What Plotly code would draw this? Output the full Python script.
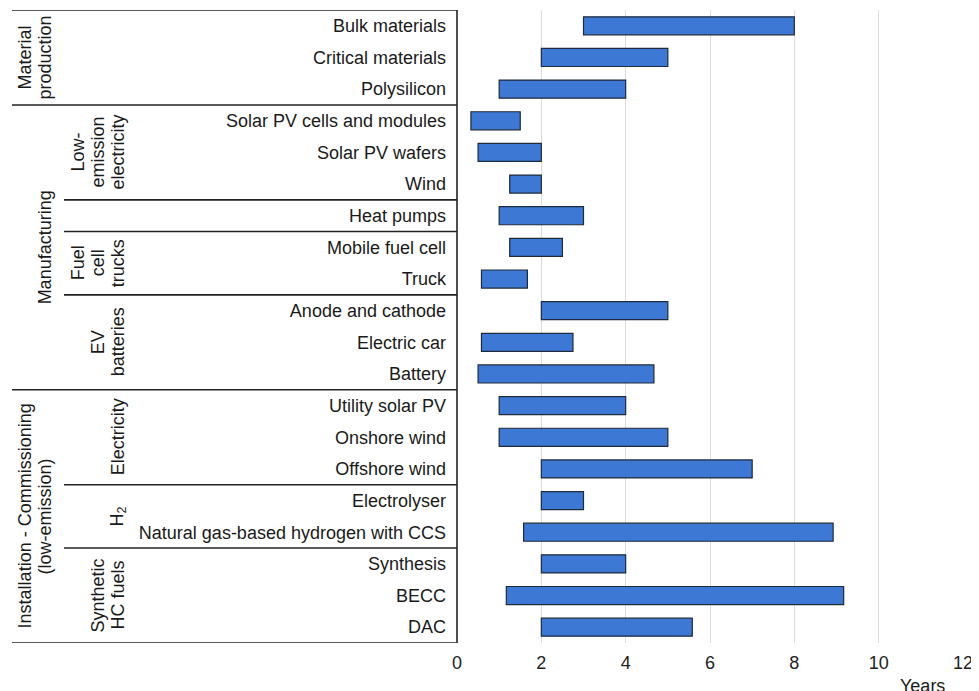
import plotly.graph_objects as go

categories = ["Bulk materials", "Critical materials", "Polysilicon",
              "Solar PV cells and modules", "Solar PV wafers", "Wind",
              "Heat pumps", "Mobile fuel cell", "Truck",
              "Anode and cathode", "Electric car", "Battery",
              "Utility solar PV", "Onshore wind", "Offshore wind",
              "Electrolyser", "Natural gas-based hydrogen with CCS",
              "Synthesis", "BECC", "DAC"]
start_years = [3, 2, 1, 0.33, 0.5, 1.25, 1, 1.25, 0.58, 2, 0.58, 0.5,
               1, 1, 2, 2, 1.58, 2, 1.17, 2]
end_years = [8, 5, 4, 1.5, 2, 2, 3, 2.5, 1.67, 5, 2.75, 4.67,
             4, 5, 7, 3, 8.92, 4, 9.17, 5.58]
x_ticks = [0, 2, 4, 6, 8, 10, 12]

# groups: (label lines, first row, last row)
main_groups = [(["Material", "production"], 0, 2),
               (["Manufacturing"], 3, 11),
               (["Installation - Commissioning", "(low-emission)"], 12, 19)]
sub_groups = [(["Low-", "emission", "electricity"], 3, 5),
              (["Fuel", "cell", "trucks"], 7, 8),
              (["EV", "batteries"], 9, 11),
              (["Electricity"], 12, 14),
              (["H<sub>2</sub>"], 15, 16),
              (["Synthetic", "HC fuels"], 17, 19)]
main_breaks = [-0.5, 2.5, 11.5, 19.5]
sub_breaks = [5.5, 6.5, 8.5, 14.5, 16.5]

rows = list(range(len(categories)))
durations = [e - s for s, e in zip(start_years, end_years)]

FONT = "Liberation Sans, Arial, sans-serif"
TXT = "#1a1a1a"
FS = 18

fig = go.Figure(go.Bar(
    y=rows, x=durations, base=start_years, orientation="h",
    width=0.57,
    marker=dict(color="#3c78d4", line=dict(color="#1f2a3a", width=1.2)),
    hoverinfo="skip",
))

# page has an 8px body margin; plot area spans page x 457..963
W_PLOT = 963 - 457
def px_to_paper(px):
    return (px - 457) / W_PLOT

shapes = []
for b in main_breaks:
    shapes.append(dict(type="line", xref="paper", yref="y",
                       x0=px_to_paper(12), x1=0, y0=b, y1=b,
                       line=dict(color="#222222", width=1.6)))
for b in sub_breaks:
    shapes.append(dict(type="line", xref="paper", yref="y",
                       x0=px_to_paper(64), x1=0, y0=b, y1=b,
                       line=dict(color="#222222", width=1.6)))
shapes.append(dict(type="line", xref="paper", yref="y",
                   x0=0, x1=0, y0=-0.5, y1=19.5,
                   line=dict(color="#222222", width=1.6)))

annotations = []
def add_group(lines, a, b, last_center_px):
    n = len(lines)
    for i, line in enumerate(lines):
        cx = last_center_px - (n - 1 - i) * 20
        annotations.append(dict(text=line, xref="paper", yref="y",
                                x=px_to_paper(cx), y=(a + b) / 2,
                                xanchor="center", yanchor="middle",
                                textangle=-90, showarrow=False,
                                font=dict(family=FONT, size=FS, color=TXT)))

for lines, a, b in main_groups:
    add_group(lines, a, b, 45)
for lines, a, b in sub_groups:
    add_group(lines, a, b, 118)

annotations.append(dict(text="Years", xref="paper", yref="paper",
                        x=px_to_paper(922), y=(643 - 686) / 633,
                        xanchor="center", yanchor="middle", showarrow=False,
                        font=dict(family=FONT, size=FS, color=TXT)))

fig.update_layout(
    width=971, height=683,
    margin=dict(l=449, r=16, t=2, b=48),
    paper_bgcolor="white", plot_bgcolor="white",
    showlegend=False,
    shapes=shapes, annotations=annotations,
    font=dict(family=FONT, size=FS, color=TXT),
    xaxis=dict(range=[0, 12], tickvals=x_ticks, showgrid=True,
               gridcolor="#dcdcdc", gridwidth=1.2, zeroline=False,
               showline=False, ticks="", ticklabelstandoff=7,
               tickfont=dict(size=FS, color="#222")),
    yaxis=dict(range=[19.5, -0.5], tickvals=rows, ticktext=categories,
               showgrid=False, zeroline=False, showline=False, ticks="",
               ticklabelstandoff=10, tickfont=dict(size=FS, color=TXT)),
)

fig.write_html("out.html")
